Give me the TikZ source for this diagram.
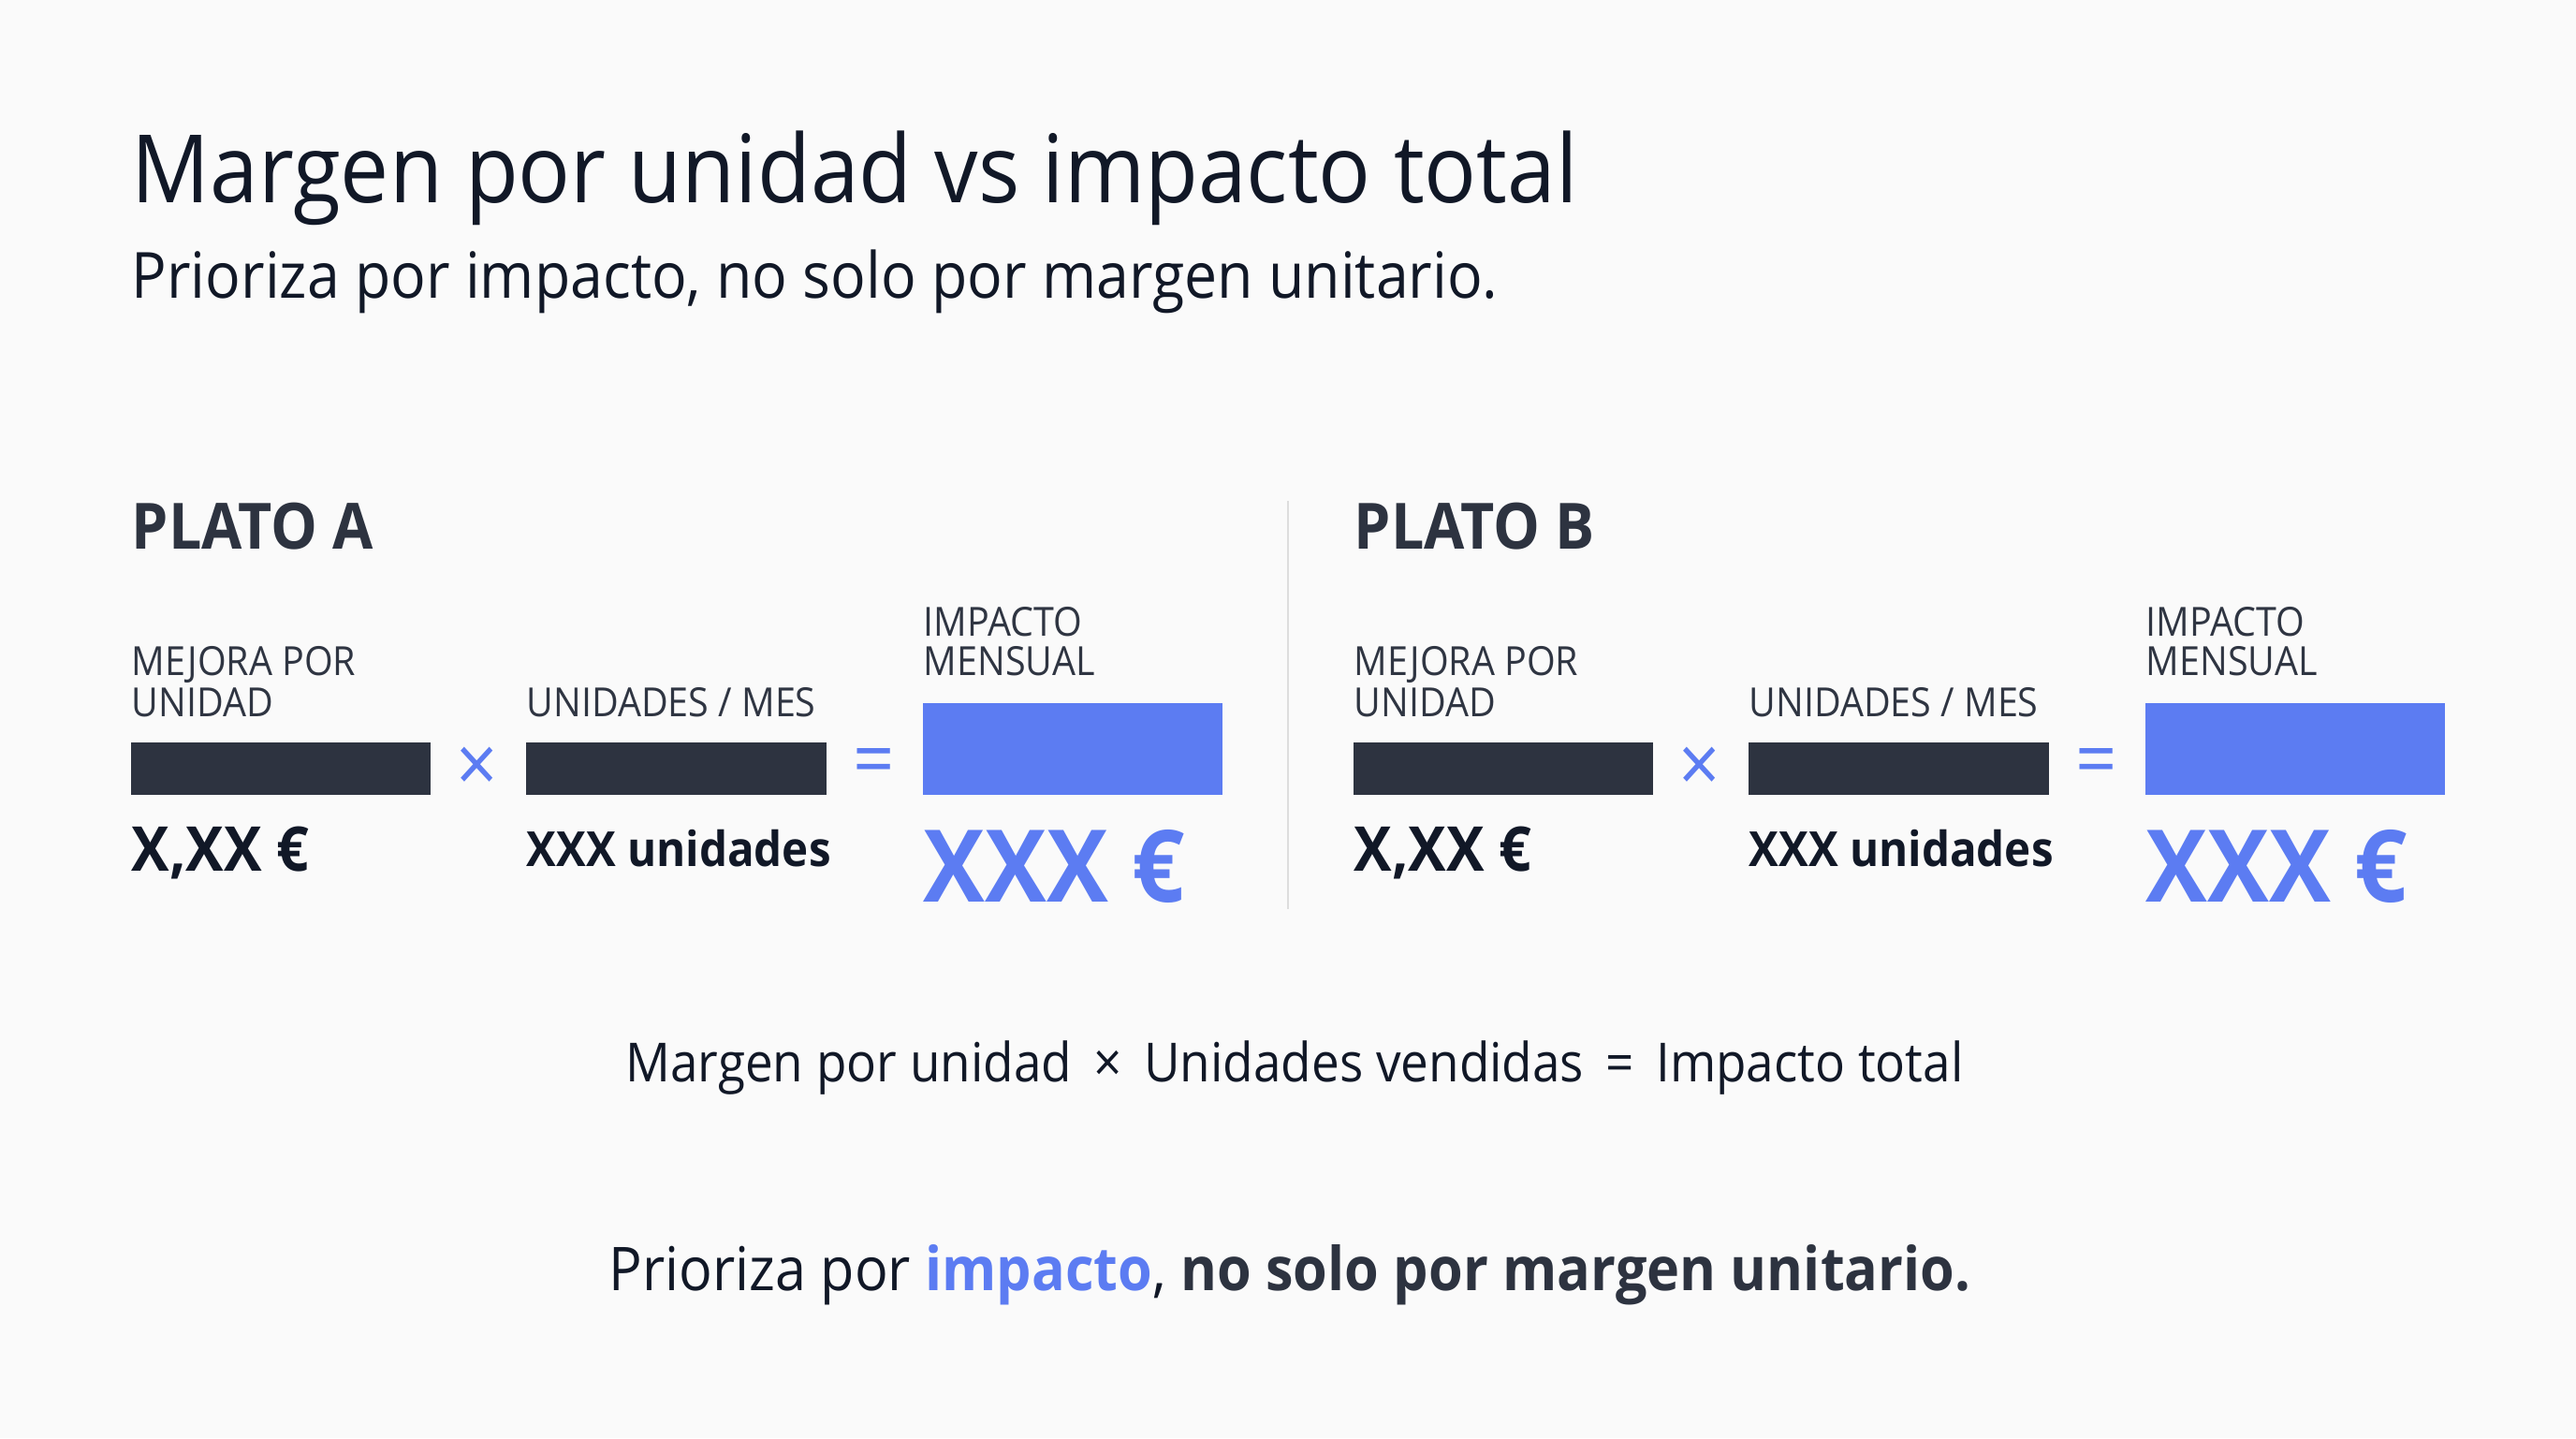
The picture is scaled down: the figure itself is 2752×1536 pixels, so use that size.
\documentclass[tikz,border=0pt]{standalone}
\usepackage{fontspec}
\setmainfont{Open Sans}[FakeStretch=0.92]
\definecolor{bg}{HTML}{FAFAFA}
\definecolor{ink}{HTML}{111827}
\definecolor{slate}{HTML}{2D3340}
\definecolor{lab}{HTML}{2F3542}
\definecolor{accent}{HTML}{5C7CF2}
\definecolor{rule}{HTML}{DDDDDD}
\tikzset{
  txt/.style={anchor=base west, inner sep=0pt, text=ink},
  title/.style={txt, font=\fontsize{28.7}{30}\selectfont},
  subtitle/.style={txt, font=\fontsize{19.35}{22}\selectfont},
  plato/.style={txt, text=slate, font=\fontsize{19.4}{22}\selectfont\bfseries},
  label/.style={txt, text=lab, font=\fontsize{12.2}{14}\selectfont},
  darkbar/.style={fill=slate, draw=none},
  bluebar/.style={fill=accent, draw=none},
  op/.style={inner sep=0pt, text=accent, font=\fontsize{24}{26}\selectfont},
  val/.style={txt, font=\fontsize{18.8}{20}\selectfont\bfseries},
  valsm/.style={txt, font=\fontsize{14.7}{17}\selectfont\bfseries},
  valbig/.style={txt, text=accent, font=\fontsize{30.5}{32}\selectfont\bfseries},
  formula/.style={anchor=base, inner sep=0pt, text=ink, font=\fontsize{16.4}{18}\selectfont},
  closing/.style={anchor=base, inner sep=0pt, text=ink, font=\fontsize{18.35}{21}\selectfont},
}
\begin{document}
\begin{tikzpicture}[x=0.1mm, y=-0.1mm]
\fill[bg] (0,0) rectangle (2752,1536);
\useasboundingbox (0,0) rectangle (2752,1536);
\node[title] (t) at (140,216) {Margen por unidad vs impacto total};
\node[subtitle] (st) at (140,318) {Prioriza por impacto, no solo por margen unitario.};
\foreach \dx/\nm/\name in {0/A/PLATO A, 1306/B/PLATO B}{
  \begin{scope}[xshift=\dx*0.1mm]
  \node[plato] (p\nm) at (140,586) {\name};
  \node[label] (l1\nm) at (140,721) {MEJORA POR};
  \node[label] (l2\nm) at (140,765) {UNIDAD};
  \node[label] (l3\nm) at (562,765) {UNIDADES / MES};
  \node[label] (l4\nm) at (986,679) {IMPACTO};
  \node[label] (l5\nm) at (986,721) {MENSUAL};
  \path[darkbar] (140,793) rectangle (460,849);
  \path[darkbar] (562,793) rectangle (883,849);
  \path[bluebar] (986,751) rectangle (1306,849);
  \node[op] (x\nm) at (510,822) {×};
  \node[op] (e\nm) at (934,820) {=};
  \node[val] (v1\nm) at (140,930) {X,XX €};
  \node[valsm] (v2\nm) at (562,925) {XXX unidades};
  \node[valbig] (v3\nm) at (986,963) {XXX €};
  \end{scope}
}
\draw[rule, line width=0.6pt] (1376,535) -- (1376,971);
\node[formula] (f) at (1383,1155) {Margen por unidad \,×\, Unidades vendidas \,=\, Impacto total};
\node[closing] (c) at (1378,1378) {Prioriza por \textcolor{accent}{\bfseries impacto}, \textcolor{slate}{\bfseries no solo por margen unitario.}};
\end{tikzpicture}
\end{document}
